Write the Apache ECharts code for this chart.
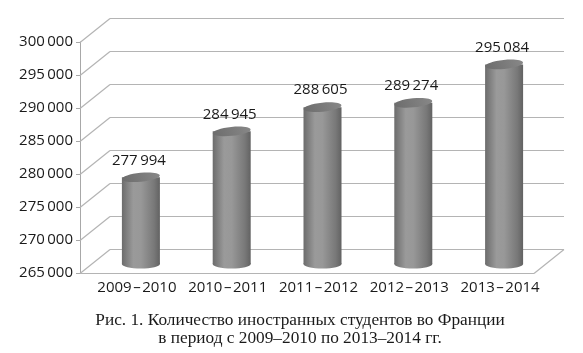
<!DOCTYPE html>
<html>
<head>
<meta charset="utf-8">
<script src="https://cdn.jsdelivr.net/npm/echarts@6/dist/echarts.min.js"></script>
<style>html,body{margin:0;padding:0;background:#fff;}#c{width:583px;height:353px;}</style>
</head>
<body>
<div id="c"></div>
<script>
var categories = ['2009\u200A\u2013\u200A2010', '2010\u200A\u2013\u200A2011', '2011\u200A\u2013\u200A2012', '2012\u200A\u2013\u200A2013', '2013\u200A\u2013\u200A2014'];
var students = [277994, 284945, 288605, 289274, 295084];
var yTicks = [265000, 270000, 275000, 280000, 285000, 290000, 295000, 300000];
var captionLines = ['Рис. 1. Количество иностранных студентов во Франции', 'в период с 2009–2010 по 2013–2014 гг.'];

var DX = 30, DY = -24;
var FONT = '"Open Sans", sans-serif';
function fmt(v) {
  var s = String(v);
  return s.slice(0, s.length - 3) + '\u2009' + s.slice(s.length - 3);
}

var chart = echarts.init(document.getElementById('c'), null, {renderer: 'canvas'});
chart.setOption({
  animation: false,
  backgroundColor: '#fff',
  grid: {left: 80, right: 49, top: 42, bottom: 80},
  xAxis: {
    type: 'category',
    data: categories,
    axisLine: {show: false},
    axisTick: {show: false},
    axisLabel: {interval: 0, hideOverlap: false, color: '#1a1a1a', fontFamily: FONT, fontSize: 15, margin: 7, padding: [0, 0, 0, 23]}
  },
  yAxis: {
    type: 'value',
    min: yTicks[0],
    max: yTicks[yTicks.length - 1],
    interval: 5000,
    splitLine: {show: false},
    axisLine: {show: true, lineStyle: {color: '#a8a8a8', width: 1}},
    axisTick: {show: true, length: 4, lineStyle: {color: '#a8a8a8'}},
    axisLabel: {color: '#1a1a1a', fontFamily: FONT, fontSize: 15, margin: 7, formatter: fmt}
  },
  graphic: captionLines.map(function (t, i) {
    return {
      type: 'text',
      x: 300,
      y: 320 + i * 18,
      style: {
        text: t,
        font: '17.3px "Liberation Serif", serif',
        fill: '#1a1a1a',
        align: 'center',
        verticalAlign: 'middle'
      }
    };
  }),
  series: [{
    type: 'custom',
    z: 1,
    silent: true,
    data: [[0, yTicks[0]]],
    renderItem: function (params, api) {
      var cs = params.coordSys;
      var x0 = cs.x, x1 = cs.x + cs.width;
      var children = [];
      var ls = {stroke: '#b4b4b4', lineWidth: 1.2};
      yTicks.forEach(function (t) {
        var y = Math.round(api.coord([0, t])[1]) + 0.5;
        children.push({type: 'line', shape: {x1: x0, y1: y, x2: x0 + DX, y2: y + DY}, style: ls});
        children.push({type: 'line', shape: {x1: x0 + DX, y1: y + DY, x2: x1 + DX, y2: y + DY}, style: ls});
      });
      var yb = Math.round(api.coord([0, yTicks[0]])[1]) + 0.5;
      children.push({type: 'line', shape: {x1: x0, y1: yb, x2: x1, y2: yb}, style: ls});
      children.push({type: 'line', shape: {x1: x1, y1: yb, x2: x1 + DX, y2: yb + DY}, style: ls});
      return {type: 'group', children: children};
    }
  }, {
    type: 'custom',
    z: 5,
    data: students.map(function (v, i) { return [i, v]; }),
    renderItem: function (params, api) {
      var top = api.coord([api.value(0), api.value(1)]);
      var base = api.coord([api.value(0), yTicks[0]]);
      var cx = top[0] + 15.5, ty = top[1] - 10, by = base[1] - 9;
      var rx = 19, ry = 4.5;
      var bodyFill = new echarts.graphic.LinearGradient(0, 0, 1, 0, [
        {offset: 0, color: '#6c6c6c'},
        {offset: 0.3, color: '#9a9a9a'},
        {offset: 0.5, color: '#989898'},
        {offset: 0.85, color: '#787878'},
        {offset: 1, color: '#626262'}
      ]);
      var topFill = new echarts.graphic.LinearGradient(0, 1, 1, 0, [
        {offset: 0, color: '#6c6c6c'},
        {offset: 1, color: '#888888'}
      ]);
      return {
        type: 'group',
        children: [
          {type: 'ellipse', shape: {cx: cx, cy: by, rx: rx, ry: ry}, style: {fill: bodyFill}},
          {type: 'rect', shape: {x: cx - rx, y: ty, width: rx * 2, height: by - ty}, style: {fill: bodyFill}},
          {type: 'ellipse', shape: {cx: cx, cy: ty, rx: rx, ry: ry}, rotation: 0.1, originX: cx, originY: ty, style: {fill: topFill}},
          {type: 'text', x: cx - 2, y: ty - 17, style: {text: fmt(api.value(1)), font: '15px ' + FONT, fill: '#1a1a1a', align: 'center', verticalAlign: 'middle'}}
        ]
      };
    }
  }]
});
</script>
</body>
</html>
